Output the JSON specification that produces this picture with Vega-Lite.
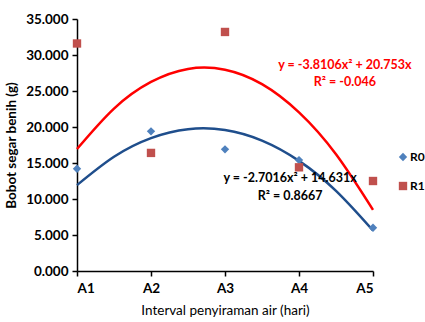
{
  "$schema": "https://vega.github.io/schema/vega-lite/v6.json",
  "autosize": "none",
  "width": 296,
  "height": 252,
  "padding": {"left": 77, "top": 19, "right": 52, "bottom": 51},
  "background": "white",
  "config": {
    "view": {"stroke": null},
    "font": "Lato",
    "axis": {"grid": false, "domainColor": "black", "tickColor": "black", "labelColor": "black", "titleColor": "black", "labelFont": "Lato", "titleFont": "Lato", "domainWidth": 1.5, "tickWidth": 1.5, "labelFontSize": 13.5, "tickSize": 5, "labelOverlap": false, "labelBound": false}
  },
  "datasets": {
    "points": [
      {"x": 1, "y": 14.2, "series": "R0"},
      {"x": 2, "y": 19.4, "series": "R0"},
      {"x": 3, "y": 16.9, "series": "R0"},
      {"x": 4, "y": 15.4, "series": "R0"},
      {"x": 5, "y": 6.0, "series": "R0"},
      {"x": 1, "y": 31.6, "series": "R1"},
      {"x": 2, "y": 16.4, "series": "R1"},
      {"x": 3, "y": 33.2, "series": "R1"},
      {"x": 4, "y": 14.4, "series": "R1"},
      {"x": 5, "y": 12.5, "series": "R1"}
    ],
    "curve": [
      {"x": 1, "y": 11.93, "series": "R0"},
      {"x": 1.5, "y": 15.87, "series": "R0"},
      {"x": 2, "y": 18.46, "series": "R0"},
      {"x": 2.5, "y": 19.69, "series": "R0"},
      {"x": 3, "y": 19.58, "series": "R0"},
      {"x": 3.5, "y": 18.11, "series": "R0"},
      {"x": 4, "y": 15.30, "series": "R0"},
      {"x": 4.5, "y": 11.13, "series": "R0"},
      {"x": 5, "y": 5.62, "series": "R0"},
      {"x": 1, "y": 16.94, "series": "R1"},
      {"x": 1.5, "y": 22.56, "series": "R1"},
      {"x": 2, "y": 26.26, "series": "R1"},
      {"x": 2.5, "y": 28.07, "series": "R1"},
      {"x": 3, "y": 27.96, "series": "R1"},
      {"x": 3.5, "y": 25.96, "series": "R1"},
      {"x": 4, "y": 22.04, "series": "R1"},
      {"x": 4.5, "y": 16.22, "series": "R1"},
      {"x": 5, "y": 8.50, "series": "R1"}
    ],
    "labels": [
      {"x": 4.62, "y": 28.6, "label": "y = -3.8106x² + 20.753x", "series": "R1"},
      {"x": 4.62, "y": 26.2, "label": "R² = -0.046", "series": "R1"},
      {"x": 3.88, "y": 12.9, "label": "y = -2.7016x² + 14.631x", "series": "R0"},
      {"x": 3.88, "y": 10.4, "label": "R² = 0.8667", "series": "R0"}
    ]
  },
  "encoding": {
    "x": {"field": "x", "type": "quantitative", "scale": {"domain": [1, 5], "nice": false},
      "axis": {"values": [1, 2, 3, 4, 5], "labelExpr": "'A' + datum.value", "title": "Interval penyiraman air (hari)", "titleFontSize": 13.5, "titleFontWeight": "normal", "labelFontWeight": "bold", "labelPadding": 5, "titlePadding": 9}},
    "y": {"field": "y", "type": "quantitative", "scale": {"domain": [0, 35], "nice": false},
      "axis": {"values": [0, 5, 10, 15, 20, 25, 30, 35], "format": ".3f", "title": "Bobot segar benih (g)", "titleFontSize": 13.5, "titleFontWeight": "bold", "labelFontWeight": "bold", "labelPadding": 4, "titlePadding": 7}}
  },
  "layer": [
    {
      "data": {"name": "curve"},
      "transform": [{"filter": "datum.series === 'R0'"}],
      "mark": {"type": "line", "interpolate": "natural", "color": "#1F4E8C", "strokeWidth": 2.5}
    },
    {
      "data": {"name": "curve"},
      "transform": [{"filter": "datum.series === 'R1'"}],
      "mark": {"type": "line", "interpolate": "natural", "color": "#FF0000", "strokeWidth": 2.5}
    },
    {
      "data": {"name": "points"},
      "mark": {"type": "point", "filled": true, "opacity": 1, "size": 70},
      "encoding": {
        "color": {"field": "series", "type": "nominal", "scale": {"domain": ["R0", "R1"], "range": ["#4F81BD", "#C0504D"]},
          "legend": {"title": null, "orient": "none", "legendX": 320, "legendY": 132, "labelFontSize": 12, "labelFontWeight": "bold", "labelFont": "Lato", "symbolSize": 70, "rowPadding": 17, "labelColor": "black", "labelOffset": 1}},
        "shape": {"field": "series", "type": "nominal", "scale": {"domain": ["R0", "R1"], "range": ["diamond", "square"]}, "legend": null}
      }
    },
    {
      "data": {"name": "labels"},
      "transform": [{"filter": "datum.series === 'R1'"}],
      "mark": {"type": "text", "color": "#FF0000", "fontSize": 12.5, "fontWeight": "bold", "font": "Lato"},
      "encoding": {"text": {"field": "label"}}
    },
    {
      "data": {"name": "labels"},
      "transform": [{"filter": "datum.series === 'R0'"}],
      "mark": {"type": "text", "color": "black", "fontSize": 12.5, "fontWeight": "bold", "font": "Lato"},
      "encoding": {"text": {"field": "label"}}
    }
  ]
}
